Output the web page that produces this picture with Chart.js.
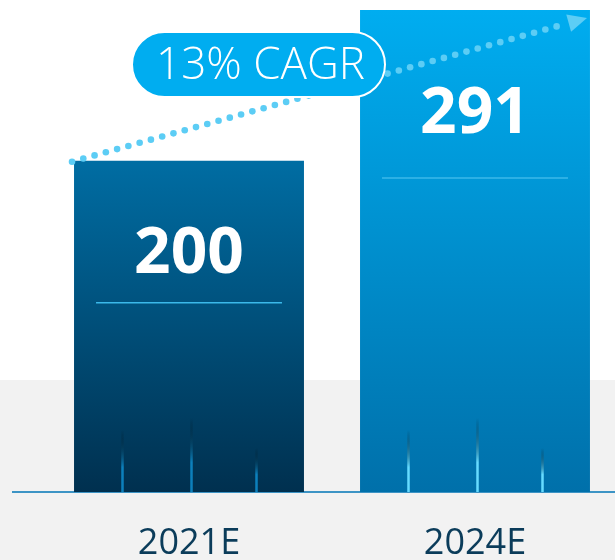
<!DOCTYPE html>
<html>
<head>
<meta charset="utf-8">
<script src="https://cdn.jsdelivr.net/npm/chart.js@4"></script>
<style>
  html, body { margin: 0; padding: 0; background: #fff; }
  #wrap { width: 615px; height: 560px; position: relative; }
</style>
</head>
<body>
<div id="wrap"><canvas id="myChart" width="615" height="560"></canvas></div>
<script>
const categories = ['2021E', '2024E'];
const values = [200, 291];
const cagrLabel = '13% CAGR';

// per-bar look
const topColors = ['#006da3', '#00adf0'];
const bottomColors = ['#00304f', '#0070aa'];
const streakColors = ['#0c80bc', '#66dbff'];
const numberOffset = [94, 105];
const ruleOffset = [142, 168];

const font = '"Open Sans", sans-serif';

const decor = {
  id: 'decor',
  afterLayout(chart) {
    // let the second bar run a touch past the right edge, like the original
    const x = chart.scales.x;
    x.right = chart.width + 3;
    x.width = x.right - x.left;
    x.configure();
  },
  beforeDraw(chart) {
    const ctx = chart.ctx;
    ctx.save();
    ctx.fillStyle = '#f2f2f2';
    ctx.fillRect(0, 380, chart.width, chart.height - 380);
    ctx.restore();
  },
  beforeDatasetsDraw(chart) {
    const ctx = chart.ctx;
    const base = chart.scales.y.getPixelForValue(0);
    ctx.save();
    ctx.strokeStyle = '#0074b6';
    ctx.lineWidth = 1.5;
    ctx.beginPath();
    ctx.moveTo(12, base);
    ctx.lineTo(chart.width, base);
    ctx.stroke();
    ctx.restore();
  },
  afterDatasetsDraw(chart) {
    const ctx = chart.ctx;
    const meta = chart.getDatasetMeta(0);
    const y = chart.scales.y;
    const base = y.getPixelForValue(0);
    ctx.save();
    meta.data.forEach(function(bar, i) {
      const left = bar.x - bar.width / 2;
      const w = bar.width;
      // streaks near the bottom
      [[0.21, 62], [0.51, 74], [0.79, 44]].forEach(function(s) {
        const sx = Math.round(left + w * s[0]) + 0.5;
        const g = ctx.createLinearGradient(0, base - s[1], 0, base);
        g.addColorStop(0, 'rgba(0,0,0,0)');
        g.addColorStop(0.6, streakColors[i]);
        g.addColorStop(1, streakColors[i]);
        ctx.strokeStyle = g;
        ctx.lineWidth = 2.5;
        ctx.beginPath();
        ctx.moveTo(sx, base - s[1]);
        ctx.lineTo(sx, base);
        ctx.stroke();
      });
      // value text
      ctx.fillStyle = '#ffffff';
      ctx.font = 'bold 64px ' + font;
      ctx.textAlign = 'center';
      ctx.textBaseline = 'middle';
      ctx.fillText(String(values[i]), bar.x, bar.y + numberOffset[i]);
      // rule under value
      ctx.strokeStyle = '#3bb9ea';
      ctx.lineWidth = 1.5;
      ctx.beginPath();
      ctx.moveTo(left + 22, bar.y + ruleOffset[i]);
      ctx.lineTo(left + w - 22, bar.y + ruleOffset[i]);
      ctx.stroke();
      // category label
      ctx.fillStyle = '#0b3c5a';
      ctx.font = '36px ' + font;
      ctx.fillText(categories[i], bar.x, 544);
    });

    // dotted CAGR arrow
    const b0 = meta.data[0], b1 = meta.data[1];
    const x0 = b0.x - b0.width / 2 - 2, y0 = b0.y + 1;
    const x1 = b1.x + b1.width / 2 - 3, y1 = b1.y + 8;
    const ang = Math.atan2(y1 - y0, x1 - x0);
    const len = Math.hypot(x1 - x0, y1 - y0) - 22;
    ctx.fillStyle = '#5ccdf5';
    for (let d = 0; d <= len; d += 11.7) {
      ctx.beginPath();
      ctx.arc(x0 + Math.cos(ang) * d, y0 + Math.sin(ang) * d, 3.3, 0, Math.PI * 2);
      ctx.fill();
    }
    ctx.save();
    ctx.translate(x1, y1);
    ctx.rotate(ang);
    ctx.beginPath();
    ctx.moveTo(0, 0);
    ctx.lineTo(-19, -9);
    ctx.lineTo(-19, 9);
    ctx.closePath();
    ctx.fill();
    ctx.restore();

    // pill label
    const px = 132, py = 32, pw = 253, ph = 65, r = ph / 2;
    ctx.beginPath();
    ctx.moveTo(px + r, py);
    ctx.lineTo(px + pw - r, py);
    ctx.arc(px + pw - r, py + r, r, -Math.PI / 2, Math.PI / 2);
    ctx.lineTo(px + r, py + ph);
    ctx.arc(px + r, py + r, r, Math.PI / 2, Math.PI * 1.5);
    ctx.closePath();
    ctx.fillStyle = '#00adf0';
    ctx.fill();
    ctx.strokeStyle = '#ffffff';
    ctx.lineWidth = 2;
    ctx.stroke();
    ctx.fillStyle = '#ffffff';
    ctx.font = '300 44px ' + font;
    ctx.textAlign = 'center';
    ctx.textBaseline = 'middle';
    ctx.fillText(cagrLabel, px + pw / 2 + 2, py + ph / 2 + 2);
    ctx.restore();
  }
};

function barGradient(context) {
  const chart = context.chart;
  const i = context.dataIndex;
  const area = chart.chartArea;
  if (!area) return topColors[i];
  const y = chart.scales.y;
  const g = chart.ctx.createLinearGradient(0, y.getPixelForValue(values[i]), 0, y.getPixelForValue(0));
  g.addColorStop(0, topColors[i]);
  g.addColorStop(1, bottomColors[i]);
  return g;
}

const config = {
  type: 'bar',
  data: {
    labels: categories,
    datasets: [{
      data: values,
      backgroundColor: barGradient,
      borderWidth: 0,
      barPercentage: 0.804,
      categoryPercentage: 1
    }]
  },
  options: {
    responsive: false,
    animation: false,
    layout: {
      padding: { left: 46, right: 0, top: 0, bottom: 68 }
    },
    plugins: {
      legend: false,
      tooltip: { enabled: false }
    },
    scales: {
      x: { display: false },
      y: { display: false, min: 0, max: 297 }
    }
  },
  plugins: [decor]
};

const myChart = new Chart(document.getElementById('myChart'), config);
</script>
</body>
</html>
